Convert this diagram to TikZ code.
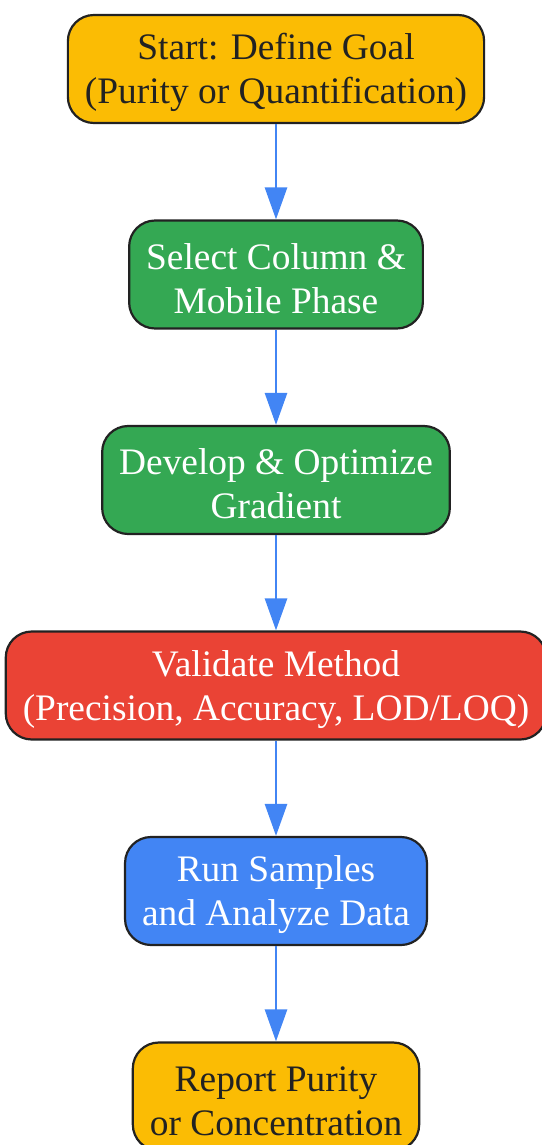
\documentclass[tikz,border=0pt]{standalone}
\usepackage{fontspec}
\setmainfont{Liberation Serif}
\usepackage{tikz}
\usetikzlibrary{positioning,arrows.meta}

\definecolor{gyellow}{HTML}{FBBC04}
\definecolor{ggreen}{HTML}{34A853}
\definecolor{gred}{HTML}{EA4335}
\definecolor{gblue}{HTML}{4285F4}
\definecolor{edge}{HTML}{222222}

\begin{document}
\begin{tikzpicture}[x=1pt,y=1pt,
  box/.style={draw=edge,line width=2.2pt,rounded corners=26pt,align=center,
    minimum height=108pt,inner xsep=17pt,
    font=\fontsize{37.4}{44}\selectfont,
    execute at begin node={\rule{0pt}{78pt}}},
  darkbox/.style={box,fill=gyellow,text=edge},
  lightbox/.style={box,text=white},
  flow/.style={gblue,line width=2.8pt,-{Triangle[length=32pt,width=22pt]}},
  node distance=95.3pt]

\useasboundingbox (0,0) rectangle (541,-1145);

\node [darkbox] (goal) at (276,-69) {Start: Define Goal\\(Purity or Quantification)};
\node [lightbox,fill=ggreen,below=of goal] (column) {Select Column \&\\Mobile Phase};
\node [lightbox,fill=ggreen,below=of column] (gradient) {Develop \& Optimize\\Gradient};
\node [lightbox,fill=gred,below=of gradient] (validate) {Validate Method\\(Precision, Accuracy, LOD/LOQ)};
\node [lightbox,fill=gblue,below=of validate] (samples) {Run Samples\\and Analyze Data};
\node [darkbox,below=of samples] (report) {Report Purity\\or Concentration};

\draw [flow] (goal) -- (column);
\draw [flow] (column) -- (gradient);
\draw [flow] (gradient) -- (validate);
\draw [flow] (validate) -- (samples);
\draw [flow] (samples) -- (report);

\end{tikzpicture}
\end{document}
